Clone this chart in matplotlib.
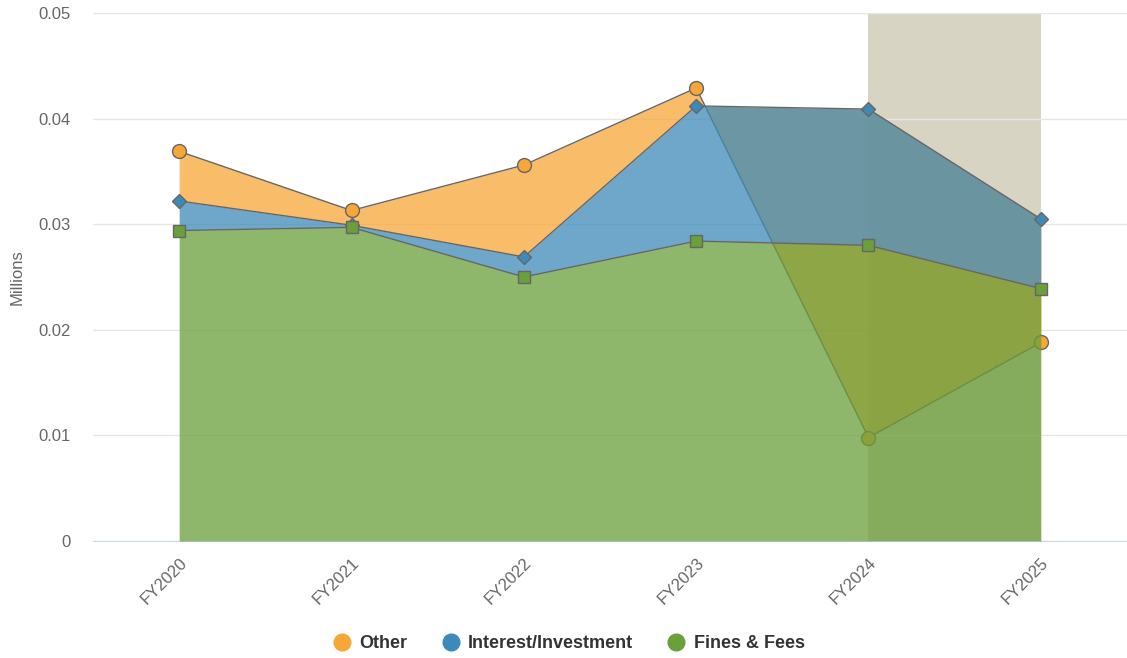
import matplotlib.pyplot as plt
import numpy as np
from matplotlib.lines import Line2D

plt.rcParams['font.family'] = ['Liberation Sans', 'DejaVu Sans']

years = ['FY2020', 'FY2021', 'FY2022', 'FY2023', 'FY2024', 'FY2025']
other = [0.0369, 0.0313, 0.0356, 0.0429, 0.0098, 0.0188]
interest = [0.0322, 0.0299, 0.0269, 0.0412, 0.0409, 0.0305]
fines = [0.0294, 0.0297, 0.0250, 0.0284, 0.0280, 0.0239]

names = ['Other', 'Interest/Investment', 'Fines & Fees']
colors = ['#f7a738', '#3d8ab8', '#6a9f3a']
markers = ['o', 'D', 's']
msizes = [10, 7, 9]

fig = plt.figure(figsize=(11.27, 6.58), dpi=100)
ax = fig.add_axes([93 / 1127, 1 - 541 / 658, 1034 / 1127, 528 / 658])

x = np.arange(len(years))

# forecast band behind the series
ax.axvspan(4, 5, color='#d8d4c4', zorder=0.5, lw=0)

# each area is filled down to the next series (last one down to zero)
vals = [other, interest, fines]
lower = [interest, fines, [0] * len(years)]
for i in range(3):
    z = 2 + i
    ax.fill_between(x, lower[i], vals[i], color=colors[i], alpha=0.75, lw=0, zorder=z)
    ax.plot(x, vals[i], color='#666666', lw=1, zorder=z + 0.1)
    ax.plot(x, vals[i], ls='none', marker=markers[i], ms=msizes[i], mfc=colors[i],
            mec='#666666', mew=1, zorder=z + 0.2)

ax.set_xlim(-0.5, 5.5)
ax.set_ylim(0, 0.05)
ax.set_yticks([0, 0.01, 0.02, 0.03, 0.04, 0.05])
ax.set_yticklabels(['0', '0.01', '0.02', '0.03', '0.04', '0.05'])
ax.set_xticks(x)
ax.set_xticklabels(years, rotation=45, ha='right', rotation_mode='anchor')

ax.grid(axis='y', color='#e6e6e6', lw=1, zorder=0)
ax.set_axisbelow(True)
for s in ['top', 'right', 'left']:
    ax.spines[s].set_visible(False)
ax.spines['bottom'].set_color('#ccd6eb')
ax.tick_params(axis='y', length=0, pad=16, labelsize=12, labelcolor='#666666')
ax.tick_params(axis='x', length=0, pad=10, labelsize=12, labelcolor='#666666')
ax.set_ylabel('Millions', color='#666666', fontsize=12, labelpad=10)

handles = [Line2D([], [], ls='none', marker='o', ms=12, mfc=c, mec=c) for c in colors]
leg = fig.legend(handles, names, loc='center',
                 bbox_to_anchor=(569 / 1127, 1 - 644 / 658), ncol=3,
                 frameon=False, handlelength=1, handletextpad=0.45, columnspacing=1.9,
                 prop={'weight': 'bold', 'size': 13})
for t in leg.get_texts():
    t.set_color('#333333')

fig.savefig('out.png', dpi=100)
